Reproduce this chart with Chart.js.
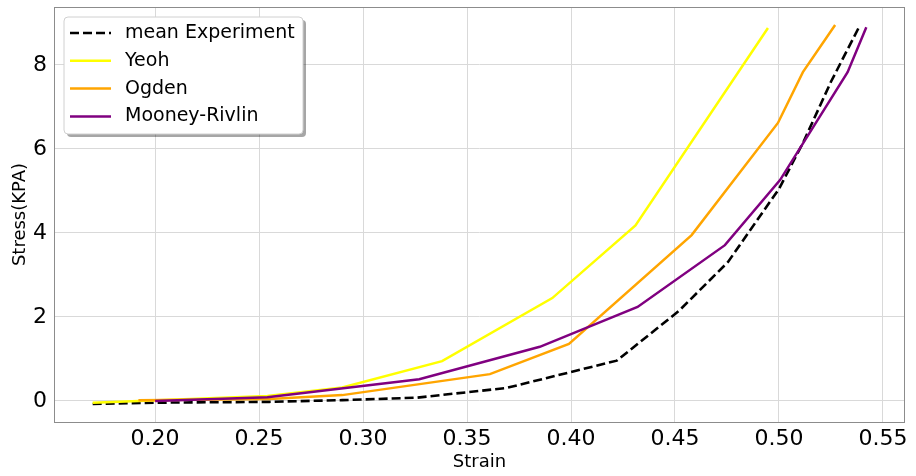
<!DOCTYPE html>
<html>
<head>
<meta charset="utf-8">
<script src="https://cdn.jsdelivr.net/npm/chart.js@4/dist/chart.umd.min.js"></script>
<style>
    html, body { margin: 0; padding: 0; background: #fff; }
</style>
</head>
<body>
<canvas id="chart" width="916" height="476"></canvas>
<script>
// values
const expStrain = [0.170, 0.200, 0.255, 0.290, 0.326, 0.369, 0.422, 0.452, 0.4755, 0.500, 0.5115, 0.525, 0.539];
const expStress = [-0.07, -0.04, -0.02, 0.02, 0.08, 0.31, 0.96, 2.15, 3.31, 5.05, 6.14, 7.6, 8.95];

const yeohStrain = [0.170, 0.192, 0.254, 0.290, 0.338, 0.391, 0.431, 0.4947];
const yeohStress = [-0.04, 0.0, 0.12, 0.32, 0.95, 2.45, 4.18, 8.88];

const ogdenStrain = [0.192, 0.255, 0.290, 0.361, 0.399, 0.458, 0.4995, 0.5115, 0.527];
const ogdenStress = [0.02, 0.05, 0.14, 0.64, 1.36, 3.95, 6.62, 7.83, 8.95];

const mooneyStrain = [0.200, 0.254, 0.327, 0.385, 0.432, 0.474, 0.5005, 0.533, 0.542];
const mooneyStress = [0.0, 0.09, 0.52, 1.29, 2.24, 3.71, 5.26, 7.83, 8.9];

const xTicks = [0.20, 0.25, 0.30, 0.35, 0.40, 0.45, 0.50, 0.55];
const yTicks = [0, 2, 4, 6, 8];

const FONT = "'DejaVu Sans', sans-serif";

function toPoints(xs, ys) {
    return xs.map((x, i) => ({ x: x, y: ys[i] }));
}

// box around the plot area
const frame = {
    id: "frame",
    beforeDatasetsDraw(chart) {
        const a = chart.chartArea;
        const ctx = chart.ctx;
        ctx.save();
        ctx.strokeStyle = "#8c8c8c";
        ctx.lineWidth = 1;
        ctx.strokeRect(a.left + 0.5, a.top + 0.5, a.right - a.left - 1, a.bottom - a.top);
        ctx.restore();
    },
};

function roundRect(ctx, x, y, w, h, r) {
    ctx.beginPath();
    ctx.moveTo(x + r, y);
    ctx.arcTo(x + w, y, x + w, y + h, r);
    ctx.arcTo(x + w, y + h, x, y + h, r);
    ctx.arcTo(x, y + h, x, y, r);
    ctx.arcTo(x, y, x + w, y, r);
    ctx.closePath();
}

// matplotlib-like legend in the upper left corner, with a shadow
const legendBox = {
    id: "legendBox",
    afterDatasetsDraw(chart) {
        const ctx = chart.ctx;
        const a = chart.chartArea;
        const x = a.left + 10, y = a.top + 10, w = 239, h = 117;
        ctx.save();
        ctx.fillStyle = "rgba(0,0,0,0.35)";
        roundRect(ctx, x + 3, y + 3, w, h, 4);
        ctx.fill();
        ctx.fillStyle = "#fff";
        roundRect(ctx, x, y, w, h, 4);
        ctx.fill();
        ctx.strokeStyle = "#d0d0d0";
        ctx.lineWidth = 1;
        ctx.stroke();
        ctx.font = "19px " + FONT;
        ctx.textBaseline = "middle";
        chart.data.datasets.forEach((ds, i) => {
            const ly = y + 16 + i * 27.8;
            ctx.strokeStyle = ds.borderColor;
            ctx.lineWidth = ds.borderWidth;
            ctx.setLineDash(ds.borderDash || []);
            ctx.beginPath();
            ctx.moveTo(x + 6, ly);
            ctx.lineTo(x + 47, ly);
            ctx.stroke();
            ctx.setLineDash([]);
            ctx.fillStyle = "#000";
            ctx.fillText(ds.label, x + 61, ly);
        });
        ctx.restore();
    },
};

const datasets = [
    {
        label: "mean Experiment",
        data: toPoints(expStrain, expStress),
        borderColor: "#000000",
        borderWidth: 2.6,
        borderDash: [9, 4],
        order: 4,
    },
    {
        label: "Yeoh",
        data: toPoints(yeohStrain, yeohStress),
        borderColor: "#ffff00",
        borderWidth: 2.5,
        order: 3,
    },
    {
        label: "Ogden",
        data: toPoints(ogdenStrain, ogdenStress),
        borderColor: "#ffa500",
        borderWidth: 2.5,
        order: 2,
    },
    {
        label: "Mooney-Rivlin",
        data: toPoints(mooneyStrain, mooneyStress),
        borderColor: "#800080",
        borderWidth: 2.5,
        order: 1,
    },
];

const config = {
    type: "line",
    data: { datasets: datasets },
    options: {
        responsive: false,
        animation: false,
        layout: { padding: { top: 7, right: 11, left: 0, bottom: 0 } },
        elements: { point: { radius: 0 }, line: { tension: 0, fill: false } },
        plugins: { legend: { display: false }, tooltip: { enabled: false } },
        scales: {
            x: {
                type: "linear",
                min: 0.1514,
                max: 0.5606,
                afterBuildTicks: (scale) => {
                    scale.ticks = xTicks.map((v) => ({ value: v }));
                },
                afterFit: (scale) => {
                    scale.height = 54;
                    scale.paddingLeft = 0;
                    scale.paddingRight = 0;
                },
                grid: { color: "#d9d9d9", drawTicks: false },
                border: { display: false },
                ticks: {
                    color: "#000",
                    padding: 4,
                    maxRotation: 0,
                    font: { family: FONT, size: 22 },
                    callback: (v) => v.toFixed(2),
                },
                title: {
                    display: true,
                    text: "Strain",
                    color: "#000",
                    font: { family: FONT, size: 18 },
                    padding: { top: 0, bottom: 3 },
                },
            },
            y: {
                type: "linear",
                min: -0.5,
                max: 9.38,
                afterBuildTicks: (scale) => {
                    scale.ticks = yTicks.map((v) => ({ value: v }));
                },
                afterFit: (scale) => {
                    scale.width = 54;
                    scale.paddingTop = 0;
                    scale.paddingBottom = 0;
                },
                grid: { color: "#d9d9d9", drawTicks: false },
                border: { display: false },
                ticks: {
                    color: "#000",
                    padding: 7,
                    font: { family: FONT, size: 22 },
                },
                title: {
                    display: true,
                    text: "Stress(KPA)",
                    color: "#000",
                    font: { family: FONT, size: 18 },
                    padding: { top: 10, bottom: 0 },
                },
            },
        },
    },
    plugins: [frame, legendBox],
};

const myChart = new Chart(document.getElementById("chart"), config);
</script>
</body>
</html>
